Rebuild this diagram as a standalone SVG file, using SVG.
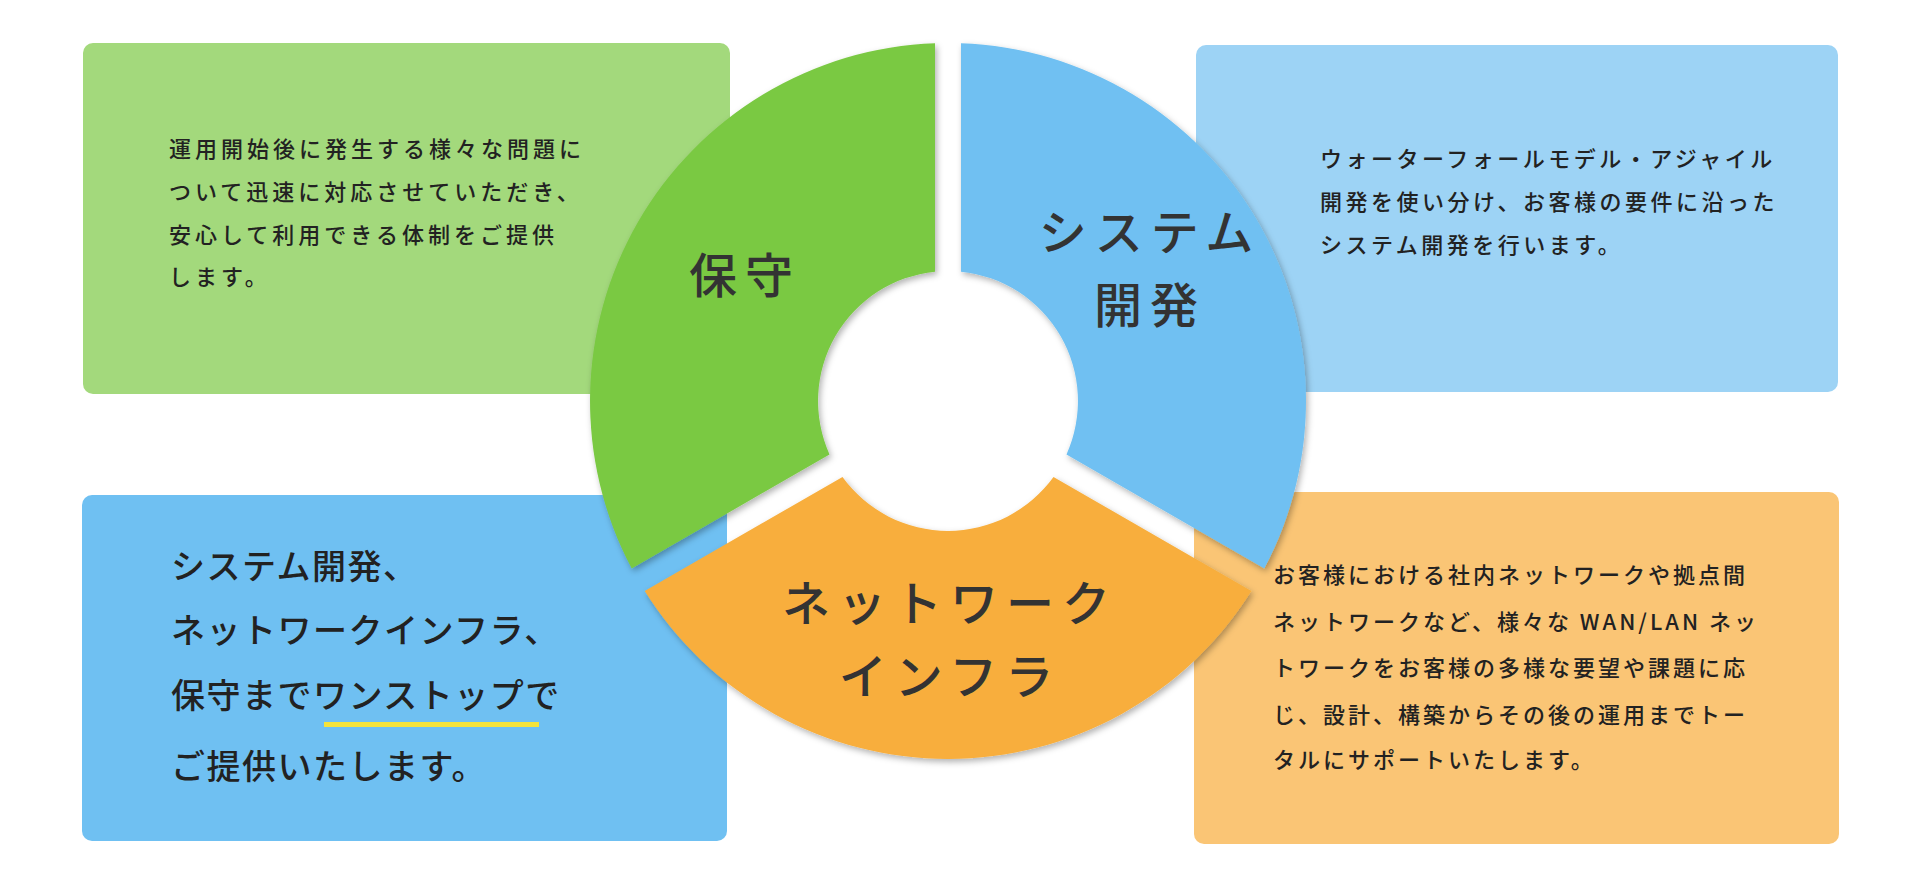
<svg xmlns="http://www.w3.org/2000/svg" width="1920" height="880" viewBox="0 0 1920 880">
<style>
text{font-family:"Noto Sans CJK JP","Noto Sans",sans-serif;fill:#222}
.s{font-size:22px;font-weight:500;letter-spacing:3.5px}
.b{font-size:34px;font-weight:500;letter-spacing:1.5px}
.l{font-size:48px;font-weight:500;fill:#333;letter-spacing:8px;text-anchor:middle}
</style>
<defs>
<filter id="sh" x="-10%" y="-10%" width="120%" height="120%"><feDropShadow dx="2" dy="3" stdDeviation="3" flood-color="#000" flood-opacity="0.3"/></filter>
</defs>
<g id="box-hoshu"><rect x="83" y="43" width="647" height="351" rx="10" fill="#a3d97c"/>
<text class="s" style="letter-spacing:4px"><tspan x="169" y="157">運用開始後に発生する様々な問題に</tspan><tspan x="169" y="200">ついて迅速に対応させていただき、</tspan><tspan x="169" y="243">安心して利用できる体制をご提供</tspan><tspan x="169" y="285">します。</tspan></text></g>
<g id="box-system"><rect x="1196" y="45" width="642" height="347" rx="10" fill="#9dd3f5"/>
<text class="s"><tspan x="1320" y="167">ウォーターフォールモデル・アジャイル</tspan><tspan x="1320" y="210">開発を使い分け、お客様の要件に沿った</tspan><tspan x="1320" y="253">システム開発を行います。</tspan></text></g>
<g id="box-onestop"><rect x="82" y="495" width="645" height="346" rx="10" fill="#6fc0f2"/>
<text class="b"><tspan x="171" y="579">システム開発、</tspan><tspan x="171" y="643">ネットワークインフラ、</tspan><tspan x="171" y="708">保守までワンストップで</tspan><tspan x="171" y="779">ご提供いたします。</tspan></text>
<rect x="324" y="722" width="215" height="5" fill="#f5e33a"/></g>
<g id="box-network"><rect x="1194" y="492" width="645" height="352" rx="10" fill="#fac575"/>
<text class="s" style="letter-spacing:3px"><tspan x="1273" y="583">お客様における社内ネットワークや拠点間</tspan><tspan x="1273" y="630">ネットワークなど、様々な WAN/LAN ネッ</tspan><tspan x="1273" y="676">トワークをお客様の多様な要望や課題に応</tspan><tspan x="1273" y="723">じ、設計、構築からその後の運用までトー</tspan><tspan x="1273" y="768">タルにサポートいたします。</tspan></text></g>
<g id="seg-hoshu"><path d="M935,43.2 A358,358 0 0 0 631.7,568.6 L829.5,454.4 A130,130 0 0 1 935,271.7 Z" fill="#7ac943" filter="url(#sh)"/>
<text class="l" x="745" y="293">保守</text></g>
<g id="seg-system"><path d="M961,43.2 A358,358 0 0 1 1264.3,568.6 L1066.5,454.4 A130,130 0 0 0 961,271.7 Z" fill="#6fc0f2" filter="url(#sh)"/>
<text class="l" x="1150" y="250">システム</text><text class="l" x="1150" y="323">開発</text></g>
<g id="seg-network"><path d="M644.7,591.1 A358,358 0 0 0 1251.3,591.1 L1053.5,476.9 A130,130 0 0 1 842.5,476.9 Z" fill="#f8ae3c" filter="url(#sh)"/>
<text class="l" x="950" y="621">ネットワーク</text><text class="l" x="950" y="694">インフラ</text></g>
<g id="connectors"/>
</svg>
